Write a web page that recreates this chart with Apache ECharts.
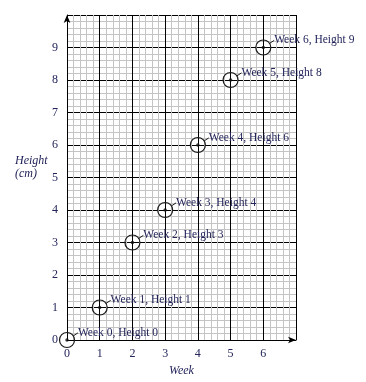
<!DOCTYPE html>
<html>
<head>
<meta charset="utf-8">
<script src="https://cdn.jsdelivr.net/npm/echarts@6/dist/echarts.min.js"></script>
<style>html,body{margin:0;padding:0;background:#fff}#c{width:366px;height:382px}</style>
</head>
<body>
<div id="c"></div>
<script>
const weeks = [0, 1, 2, 3, 4, 5, 6];
const heights = [0, 1, 3, 4, 6, 8, 9];
const xTickLabels = ['0', '1', '2', '3', '4', '5', '6'];
const yTickLabels = ['0', '1', '2', '3', '4', '5', '6', '7', '8', '9'];
const xName = 'Week';
const yName = 'Height\n(cm)';

const navy = '#23245a';
const font = '"Liberation Serif", "DejaVu Serif", serif';
const points = weeks.map((w, i) => [w, heights[i]]);

const chart = echarts.init(document.getElementById('c'), null, {renderer: 'canvas'});
chart.setOption({
  animation: false,
  grid: {left: 67, right: 70, top: 15, bottom: 42},
  graphic: [{
    type: 'text', left: 15, top: 155,
    style: {text: yName, font: 'italic 12px ' + font, fill: navy, lineHeight: 12.5}
  }],
  xAxis: {
    type: 'value', min: 0, max: 7, interval: 1,
    name: xName, nameLocation: 'middle', nameGap: 22,
    nameTextStyle: {fontFamily: font, fontStyle: 'italic', fontSize: 12, color: navy, verticalAlign: 'top'},
    axisLine: {show: true, lineStyle: {color: '#000', width: 1}, symbol: ['none', 'arrow'], symbolSize: [5, 8]},
    axisTick: {show: false},
    axisLabel: {fontFamily: font, fontSize: 12, color: navy, margin: 8,
      formatter: v => (xTickLabels[v] !== undefined ? xTickLabels[v] : '')},
    splitLine: {show: true, lineStyle: {color: '#000', width: 1}},
    minorTick: {show: false, splitNumber: 5},
    minorSplitLine: {show: true, lineStyle: {color: '#c4c4c4', width: 1}}
  },
  yAxis: {
    type: 'value', min: 0, max: 10, interval: 1,
    axisLine: {show: true, lineStyle: {color: '#000', width: 1}, symbol: ['none', 'arrow'], symbolSize: [5, 8]},
    axisTick: {show: false},
    axisLabel: {fontFamily: font, fontSize: 12, color: navy, margin: 9,
      formatter: v => (yTickLabels[v] !== undefined ? yTickLabels[v] : '')},
    splitLine: {show: true, lineStyle: {color: '#000', width: 1}},
    minorTick: {show: false, splitNumber: 5},
    minorSplitLine: {show: true, lineStyle: {color: '#c4c4c4', width: 1}}
  },
  series: [
    {
      type: 'scatter', data: points, symbol: 'circle', symbolSize: 15,
      itemStyle: {color: 'rgba(255,255,255,0)', borderColor: '#1a1a1a', borderWidth: 1.2, opacity: 1},
      label: {
        show: true, position: [19, 1], align: 'left', verticalAlign: 'middle',
        fontFamily: font, fontSize: 11.5, color: navy,
        formatter: p => 'Week ' + p.value[0] + ', Height ' + p.value[1]
      },
      labelLine: {show: true, lineStyle: {color: '#1a1a1a', width: 1}},
      z: 3
    },
    {
      type: 'scatter', data: points, symbol: 'circle', symbolSize: 3.5,
      itemStyle: {color: '#111'}, silent: true, z: 4
    }
  ]
});
</script>
</body>
</html>
